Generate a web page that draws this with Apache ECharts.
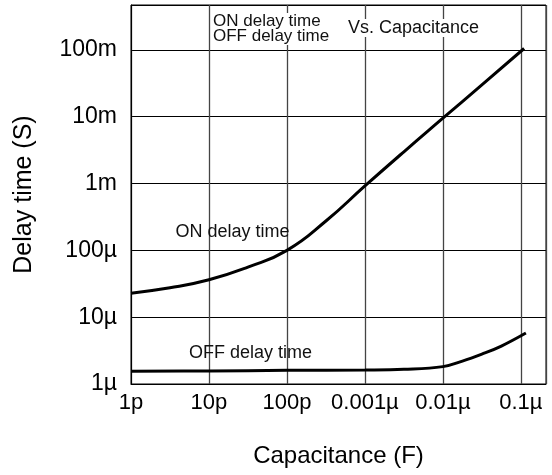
<!DOCTYPE html>
<html>
<head>
<meta charset="utf-8">
<script src="https://cdn.jsdelivr.net/npm/echarts@6/dist/echarts.min.js"></script>
<style>
html,body{margin:0;padding:0;background:#fff;}
#chart{width:552px;height:475px;}
</style>
</head>
<body>
<div id="chart"></div>
<script>
// Capacitance (F) tick labels for decades 1e-12 .. 1e-7
const xTickExponents = [-12, -11, -10, -9, -8, -7];
const xTickLabels = ['1p', '10p', '100p', '0.001µ', '0.01µ', '0.1µ'];
// Delay time (S) tick labels for decades 1e-6 .. 1e-1
const yTickExponents = [-6, -5, -4, -3, -2, -1];
const yTickLabels = ['1µ', '10µ', '100µ', '1m', '10m', '100m'];

// ON delay time curve
const onCap   = [1e-12, 3.16e-12, 1e-11, 3.16e-11, 1e-10, 3.16e-10, 1e-9, 3.16e-9, 1e-8, 3.16e-8, 1.1e-7];
const onDelay = [2.29e-5, 2.75e-5, 3.63e-5, 5.62e-5, 1e-4, 2.75e-4, 9.2e-4, 2.99e-3, 9.5e-3, 3.0e-2, 0.105];

// OFF delay time curve
const offCap   = [1e-12, 1e-11, 1e-10, 1e-9, 3.16e-9, 1e-8, 1.78e-8, 3.16e-8, 5.62e-8, 1.16e-7];
const offDelay = [1.55e-6, 1.57e-6, 1.6e-6, 1.62e-6, 1.66e-6, 1.82e-6, 2.2e-6, 2.8e-6, 3.7e-6, 5.8e-6];

const FONT = 'Liberation Sans, Arial, sans-serif';

function labelFor(v, exps, labels) {
  const e = Math.log10(v);
  const r = Math.round(e);
  if (Math.abs(e - r) > 0.02) return '';
  const i = exps.indexOf(r);
  return i >= 0 ? labels[i] : '';
}

const chart = echarts.init(document.getElementById('chart'), null, {renderer: 'canvas'});
chart.setOption({
  animation: false,
  backgroundColor: '#fff',
  grid: {left: 131, right: 6, top: 5, bottom: 91, show: true, borderColor: '#000', borderWidth: 1, backgroundColor: 'transparent'},
  xAxis: {
    type: 'log', logBase: 10, min: 1e-12, max: 2.1e-7, splitNumber: 6,
    name: 'Capacitance (F)', nameLocation: 'middle', nameGap: 60,
    nameTextStyle: {fontFamily: FONT, fontSize: 24, color: '#000'},
    axisLine: {show: true, lineStyle: {color: '#000', width: 1}},
    axisTick: {show: false},
    minorTick: {show: false},
    splitLine: {show: true, lineStyle: {color: '#444', width: 1.3}},
    axisLabel: {
      margin: 8, fontFamily: FONT, fontSize: 22, color: '#000',
      formatter: v => labelFor(v, xTickExponents, xTickLabels)
    }
  },
  yAxis: {
    type: 'log', logBase: 10, min: 1e-6, max: 0.47, splitNumber: 6,
    name: 'Delay time (S)', nameLocation: 'middle', nameGap: 94,
    nameTextStyle: {fontFamily: FONT, fontSize: 25, color: '#000'},
    axisLine: {show: true, lineStyle: {color: '#000', width: 1}},
    axisTick: {show: false},
    minorTick: {show: false},
    splitLine: {show: true, lineStyle: {color: '#000', width: 1}},
    axisLabel: {
      margin: 14, fontFamily: FONT, fontSize: 23, color: '#000',
      formatter: v => labelFor(v, yTickExponents, yTickLabels)
    }
  },
  series: [
    {
      name: 'ON delay time', type: 'line', smooth: 0.5, symbol: 'none',
      data: onCap.map((c, i) => [c, onDelay[i]]),
      lineStyle: {color: '#000', width: 3},
      markPoint: {
        symbol: 'circle', symbolSize: 0,
        label: {show: true, formatter: 'ON delay time', fontFamily: FONT, fontSize: 18, color: '#111', position: 'inside'},
        data: [{coord: [2e-11, 1.85e-4]}]
      }
    },
    {
      name: 'OFF delay time', type: 'line', smooth: 0.4, symbol: 'none',
      data: offCap.map((c, i) => [c, offDelay[i]]),
      lineStyle: {color: '#000', width: 3},
      markPoint: {
        symbol: 'circle', symbolSize: 0,
        label: {show: true, formatter: 'OFF delay time', fontFamily: FONT, fontSize: 18, color: '#111', position: 'inside'},
        data: [{coord: [3.4e-11, 2.9e-6]}]
      }
    }
  ],
  graphic: [
    {
      type: 'text', left: 211, top: 13, z: 100,
      style: {text: 'ON delay time\nOFF delay time', font: '17px ' + FONT, fill: '#111', lineHeight: 15,
              backgroundColor: '#fff', padding: [1, 2, 1, 2]}
    },
    {
      type: 'text', left: 346, top: 19, z: 100,
      style: {text: 'Vs. Capacitance', font: '18px ' + FONT, fill: '#111',
              backgroundColor: '#fff', padding: [0, 2, 0, 2]}
    }
  ]
});
</script>
</body>
</html>
